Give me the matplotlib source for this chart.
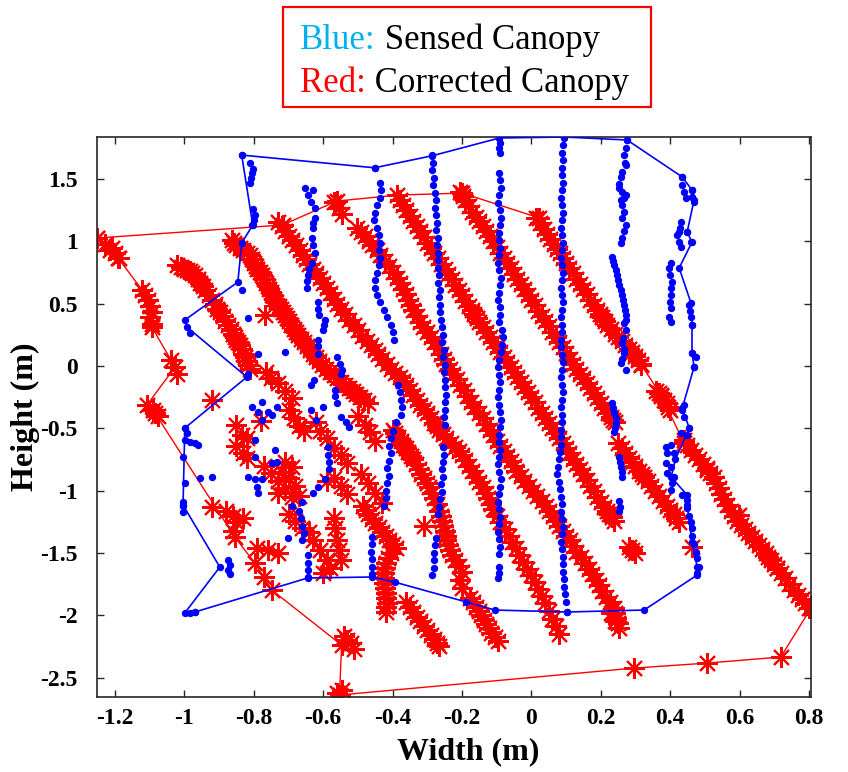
import matplotlib
matplotlib.use("Agg")
import matplotlib.pyplot as plt
from matplotlib.patches import Rectangle
import numpy as np

plt.rcParams["axes.unicode_minus"] = False
SERIF = ["Liberation Serif", "DejaVu Serif"]

# ---------------- sensed canopy (blue) ----------------
sensed_a = [(-0.812,1.63),(-0.803,1.58),(-0.806,1.55),(-0.809,1.51),(-0.812,1.47),
            (-0.803,1.26),(-0.797,1.21),(-0.800,1.17),(-0.806,1.13)]

sensed_b = [(-0.653,1.43),(-0.630,1.41),(-0.645,1.37),(-0.635,1.32),(-0.624,1.27),(-0.624,1.19),
            (-0.628,1.15),(-0.630,1.11),(-0.633,1.03),(-0.628,0.97),(-0.624,0.91),(-0.633,0.83),
            (-0.640,0.78),(-0.645,0.73),(-0.647,0.68),(-0.647,0.63),(-0.616,0.51),(-0.616,0.46),
            (-0.612,0.41),(-0.596,0.37),(-0.598,0.33),(-0.601,0.29),(-0.616,0.21),(-0.616,0.16),
            (-0.614,0.10),(-0.560,0.07),(-0.552,0.02),(-0.545,-0.03),(-0.548,-0.06),(-0.567,-0.19),
            (-0.565,-0.24),(-0.560,-0.30),(-0.550,-0.41),(-0.535,-0.45),(-0.525,-0.49),(-0.587,-0.65),
            (-0.585,-0.71),(-0.582,-0.77),(-0.584,-0.83),(-0.596,-0.91),(-0.615,-0.97),(-0.630,-1.02),
            (-0.662,-1.09),(-0.691,-1.12),(-0.670,-1.16),(-0.665,-1.22),(-0.660,-1.28),(-0.655,-1.34),
            (-0.660,-1.40),(-0.702,-1.38),(-0.645,-1.52),(-0.645,-1.58),(-0.645,-1.64),(-0.645,-1.69),
            (-0.626,-0.11),(-0.635,-0.15),(-0.600,-0.33),(-0.635,-0.35),(-0.621,-0.43)]

sensed_c = [(-0.452,1.59),(-0.435,1.47),(-0.432,1.41),(-0.436,1.35),(-0.445,1.29),(-0.452,1.23),
            (-0.455,1.17),(-0.445,1.11),(-0.440,1.05),(-0.437,0.99),(-0.440,0.93),(-0.436,0.87),
            (-0.440,0.81),(-0.445,0.75),(-0.450,0.69),(-0.452,0.63),(-0.445,0.57),(-0.435,0.51),
            (-0.425,0.45),(-0.415,0.39),(-0.405,0.33),(-0.400,0.27),(-0.395,0.21),(-0.385,-0.15),
            (-0.380,-0.21),(-0.375,-0.27),(-0.372,-0.33),(-0.375,-0.39),(-0.390,-0.45),(-0.400,-0.52),
            (-0.405,-0.58),(-0.410,-0.64),(-0.405,-0.70),(-0.410,-0.76),(-0.415,-0.82),(-0.410,-0.88),
            (-0.415,-0.94),(-0.420,-1.00),(-0.418,-1.06),(-0.425,-1.12),(-0.460,-1.37),(-0.460,-1.43),
            (-0.462,-1.49),(-0.460,-1.55),(-0.460,-1.61),(-0.460,-1.67)]

sensed_d = [(-0.285,1.69),(-0.283,1.63),(-0.285,1.57),(-0.280,1.51),(-0.283,1.45),(-0.278,1.39),
            (-0.275,1.33),(-0.278,1.27),(-0.275,1.21),(-0.272,1.15),(-0.275,1.09),(-0.270,1.03),
            (-0.272,0.97),(-0.270,0.91),(-0.268,0.85),(-0.270,0.79),(-0.266,0.73),(-0.268,0.67),
            (-0.264,0.61),(-0.266,0.55),(-0.262,0.49),(-0.264,0.43),(-0.260,0.37),(-0.258,0.31),
            (-0.255,0.25),(-0.257,0.19),(-0.252,0.13),(-0.255,0.07),(-0.250,0.01),(-0.253,-0.05),
            (-0.248,-0.11),(-0.250,-0.17),(-0.246,-0.23),(-0.250,-0.29),(-0.248,-0.35),(-0.252,-0.41),
            (-0.250,-0.47),(-0.255,-0.65),(-0.252,-0.71),(-0.255,-0.77),(-0.258,-0.83),(-0.255,-0.89),
            (-0.260,-0.95),(-0.258,-1.01),(-0.262,-1.07),(-0.265,-1.13),(-0.270,-1.19),(-0.275,-1.38),
            (-0.278,-1.44),(-0.280,-1.50),(-0.282,-1.56),(-0.280,-1.62),(-0.285,-1.68)]

sensed_e = [(-0.092,1.83),(-0.090,1.79),(-0.093,1.75),(-0.090,1.71),
            (-0.094,1.55),(-0.090,1.49),(-0.088,1.43),(-0.092,1.37),(-0.095,1.31),(-0.091,1.25),
            (-0.088,1.19),(-0.090,1.13),(-0.094,1.07),(-0.092,1.01),(-0.089,0.95),(-0.093,0.89),
            (-0.096,0.83),(-0.092,0.77),(-0.088,0.71),(-0.090,0.65),(-0.093,0.59),(-0.095,0.53),
            (-0.091,0.47),(-0.089,0.41),(-0.092,0.35),(-0.086,0.29),(-0.083,0.23),(-0.085,0.17),
            (-0.088,0.11),(-0.092,0.05),(-0.095,-0.01),(-0.093,-0.07),(-0.090,-0.13),(-0.094,-0.19),
            (-0.097,-0.25),(-0.093,-0.31),(-0.090,-0.37),(-0.088,-0.43),(-0.091,-0.49),(-0.094,-0.55),
            (-0.092,-0.61),(-0.089,-0.67),(-0.093,-0.73),(-0.096,-0.79),(-0.092,-0.85),(-0.088,-0.91),
            (-0.090,-0.97),(-0.094,-1.03),(-0.096,-1.09),(-0.093,-1.15),(-0.090,-1.21),(-0.092,-1.27),
            (-0.095,-1.33),(-0.093,-1.39),(-0.090,-1.45),(-0.092,-1.51),(-0.094,-1.61),(-0.092,-1.66),
            (-0.095,-1.70)]

sensed_f = [(0.095,1.83),(0.090,1.77),(0.088,1.71),(0.091,1.65),(0.087,1.59),(0.089,1.53),(0.092,1.47),
            (0.088,1.41),(0.086,1.35),(0.089,1.29),(0.091,1.23),(0.087,1.17),(0.085,1.11),(0.088,1.05),
            (0.090,0.99),(0.087,0.93),(0.084,0.87),(0.087,0.81),(0.090,0.75),(0.088,0.69),(0.085,0.63),
            (0.087,0.57),(0.090,0.51),(0.088,0.45),(0.085,0.39),(0.087,0.33),(0.089,0.27),(0.086,0.21),
            (0.084,0.15),(0.087,0.09),(0.090,0.03),(0.088,-0.03),(0.085,-0.09),(0.087,-0.15),(0.090,-0.21),
            (0.088,-0.27),(0.085,-0.33),(0.087,-0.39),(0.089,-0.45),(0.086,-0.51),(0.084,-0.57),(0.086,-0.63),
            (0.083,-0.69),(0.080,-0.75),(0.076,-0.81),(0.075,-0.87),(0.079,-0.93),(0.083,-0.99),(0.086,-1.05),
            (0.088,-1.11),(0.086,-1.17),(0.088,-1.23),(0.090,-1.29),(0.088,-1.35),(0.086,-1.41),(0.088,-1.47),
            (0.090,-1.53),(0.092,-1.59),(0.090,-1.65),(0.093,-1.71),(0.095,-1.77),(0.097,-1.83),(0.100,-1.89),
            (0.104,-1.97)]

sensed_g = [(0.276,1.81),(0.272,1.75),(0.268,1.69),(0.271,1.63),(0.273,1.61),(0.262,1.56),(0.259,1.52),
            (0.253,1.46),(0.253,1.43),(0.262,1.40),(0.273,1.37),(0.268,1.35),(0.259,1.33),(0.262,1.29),
            (0.268,1.24),(0.262,1.19),(0.273,1.13),(0.268,1.08),(0.262,1.03),(0.259,0.99),
            (0.233,0.875),(0.236,0.84),(0.239,0.81),(0.243,0.77),(0.247,0.73),(0.250,0.69),(0.253,0.65),
            (0.258,0.61),(0.262,0.57),(0.265,0.53),(0.268,0.49),(0.271,0.45),(0.273,0.41),(0.272,0.37),
            (0.268,0.345),(0.273,0.29),(0.265,0.225),(0.262,0.185),(0.266,0.14),(0.268,0.104),(0.262,0.06),
            (0.259,0.024),(0.273,-0.03),
            (0.233,-0.30),(0.236,-0.34),(0.239,-0.38),(0.243,-0.42),(0.245,-0.46),(0.242,-0.50),(0.239,-0.53),
            (0.253,-0.73),(0.256,-0.77),(0.259,-0.81),(0.260,-0.85),(0.262,-0.89),
            (0.253,-1.08),(0.255,-1.13),(0.253,-1.16)]

sensed_h = [(0.435,1.517),(0.435,1.453),(0.440,1.397),(0.446,1.348),(0.463,1.412),(0.463,1.356),
            (0.469,1.316),(0.432,1.156),(0.428,1.11),(0.426,1.075),(0.420,1.051),(0.426,0.995),
            (0.432,0.955),(0.460,0.995),(0.449,1.075),
            (0.403,0.827),(0.397,0.787),(0.400,0.730),(0.406,0.674),(0.403,0.626),(0.403,0.570),
            (0.400,0.514),(0.403,0.465),(0.397,0.393),(0.403,0.353),(0.455,0.490),(0.460,0.393),
            (0.458,0.44),(0.463,0.33),
            (0.463,0.104),(0.475,0.072),(0.469,-0.008),(0.440,-0.313),(0.435,-0.353),(0.440,-0.409),
            (0.432,-0.538),(0.455,-0.498),(0.449,-0.554),(0.388,-0.650),(0.403,-0.634),(0.391,-0.698),
            (0.412,-0.698),(0.388,-0.779),(0.403,-0.811),(0.391,-0.859),(0.412,-0.891),(0.406,-0.939),
            (0.403,-0.995),(0.435,-1.035),(0.449,-1.075),
            (0.449,-1.14),(0.455,-1.20),(0.460,-1.25),(0.462,-1.30),(0.463,-1.36),(0.470,-1.43),
            (0.475,-1.49),(0.478,-1.54),(0.483,-1.61),(0.478,-1.66)]

sensed_scatter = [(-0.999,-0.498),(-0.993,-0.538),(-0.999,-0.594),(-0.984,-0.610),(-0.970,-0.618),
                  (-0.961,-0.634),(-1.004,-0.730),(-0.999,-0.939),(-1.004,-1.091),(-1.004,-1.12),
                  (-1.004,-1.17),(-0.984,0.265),(-0.817,0.385),(-0.835,0.61),
                  (-0.806,-0.33),(-0.777,-0.29),(-0.760,-0.37),(-0.734,-0.33),(-0.777,-0.43),
                  (-0.748,-0.39),(-0.788,-0.37),(-0.797,-0.59),(-0.740,-0.67),(-0.797,-0.73),
                  (-0.748,-0.78),(-0.734,-0.77),(-0.817,-0.89),(-0.797,-0.91),(-0.791,-0.97),
                  (-0.788,-1.02),(-0.777,-0.91),(-0.921,-0.89),(-0.955,-0.90),(-0.711,0.11),
                  (-0.788,0.10),(-0.817,-0.06),
                  (-0.875,-1.56),(-0.870,-1.60),(-0.875,-1.64),(-0.870,-1.67),
                  (-0.985,-1.98),(-0.970,-1.975)]

sensed_boundary = [(-0.835,1.693),(-0.803,1.132),(-0.835,0.987),(-0.846,0.674),(-0.999,0.369),
                   (-0.993,0.313),(-0.820,-0.088),(-0.999,-0.498),(-1.004,-1.116),(-0.898,-1.613),
                   (-0.999,-1.982),(-0.970,-1.974),(-0.645,-1.701),(-0.460,-1.693),(-0.394,-1.734),
                   (-0.187,-1.894),(-0.106,-1.958),(0.104,-1.974),(0.325,-1.958),(0.478,-1.677),
                   (0.478,-1.613),(0.463,-1.413),(0.449,-1.116),(0.449,-1.035),(0.403,-0.891),
                   (0.415,-0.750),(0.455,-0.498),(0.435,-0.337),(0.469,-0.008),(0.463,0.104),
                   (0.463,0.329),(0.460,0.506),(0.426,0.787),(0.463,0.995),(0.449,1.075),
                   (0.469,1.332),(0.463,1.412),(0.435,1.517),(0.276,1.814),(0.095,1.838),
                   (-0.092,1.830),(-0.285,1.688),(-0.452,1.591),(-0.835,1.693)]

# ---------------- corrected canopy (red) ----------------
corrected_band_1 = [(-1.02,0.81),(-1.00,0.78),(-0.985,0.76),(-0.97,0.73),(-0.955,0.67),(-0.94,0.61),
                    (-0.921,0.53),(-0.905,0.46),(-0.89,0.40),(-0.875,0.33),(-0.86,0.26),(-0.85,0.21),
                    (-0.84,0.17),(-0.83,0.10),(-0.82,0.04),(-0.812,-0.02),
                    (-1.01,0.795),(-0.992,0.77),(-0.977,0.745),(-0.962,0.70),(-0.947,0.64),(-0.93,0.57),
                    (-0.913,0.495),(-0.897,0.43),(-0.882,0.365),(-0.867,0.295),(-0.855,0.235),(-0.845,0.19),
                    (-0.835,0.135),(-0.825,0.07),(-0.816,0.01)]

corrected_band_2 = [(-0.863,1.01),(-0.85,0.97),(-0.83,0.93),(-0.812,0.89),(-0.80,0.83),(-0.79,0.78),
                    (-0.777,0.73),(-0.765,0.67),(-0.755,0.62),(-0.748,0.57),(-0.735,0.51),(-0.722,0.46),
                    (-0.711,0.41),(-0.70,0.36),(-0.685,0.30),(-0.673,0.25),(-0.655,0.19),(-0.639,0.13),
                    (-0.62,0.07),(-0.604,0.01),(-0.58,-0.05),(-0.56,-0.10),(-0.538,-0.15),(-0.515,-0.20),
                    (-0.495,-0.25),(-0.472,-0.30),
                    (-0.856,0.99),(-0.84,0.95),(-0.821,0.91),(-0.806,0.86),(-0.795,0.805),(-0.783,0.755),
                    (-0.771,0.70),(-0.76,0.645),(-0.751,0.595),(-0.741,0.54),(-0.728,0.485),(-0.716,0.435),
                    (-0.705,0.385),(-0.692,0.33),(-0.679,0.275),(-0.664,0.22),(-0.647,0.16),(-0.63,0.10),
                    (-0.612,0.04),(-0.592,-0.02),(-0.57,-0.075),(-0.549,-0.125),(-0.526,-0.175),
                    (-0.505,-0.225),(-0.483,-0.275)]

corrected_band_3 = [(-0.731,1.156),(-0.71,1.08),(-0.69,1.01),(-0.668,0.931),(-0.65,0.86),(-0.63,0.78),
                    (-0.61,0.71),(-0.59,0.63),(-0.57,0.54),(-0.55,0.46),(-0.525,0.37),(-0.50,0.29),
                    (-0.475,0.20),(-0.452,0.13),(-0.43,0.06),(-0.405,-0.02),(-0.38,-0.09),(-0.36,-0.15),
                    (-0.34,-0.23),(-0.32,-0.31),(-0.30,-0.38),(-0.28,-0.46),(-0.265,-0.51),(-0.245,-0.58),
                    (-0.22,-0.65),(-0.20,-0.71),(-0.18,-0.80),(-0.16,-0.89),(-0.14,-0.97),(-0.125,-1.06),
                    (-0.11,-1.15),(-0.09,-1.25),(-0.065,-1.36),(-0.045,-1.46),(-0.025,-1.57),(0.0,-1.68),
                    (0.02,-1.79),(0.04,-1.90),(0.06,-2.03),(0.08,-2.15),
                    (-0.72,1.12),(-0.70,1.045),(-0.679,0.97),(-0.659,0.895),(-0.64,0.82),(-0.62,0.745),
                    (-0.60,0.67),(-0.58,0.585),(-0.56,0.50),(-0.537,0.415),(-0.512,0.33),(-0.487,0.245),
                    (-0.463,0.165),(-0.441,0.095),(-0.417,0.02),(-0.392,-0.055),(-0.37,-0.12),(-0.35,-0.19),
                    (-0.33,-0.27),(-0.31,-0.345),(-0.29,-0.42),(-0.272,-0.485),(-0.255,-0.545),
                    (-0.232,-0.615),(-0.21,-0.68),(-0.19,-0.755),(-0.17,-0.845),(-0.15,-0.93),
                    (-0.132,-1.015),(-0.117,-1.105),(-0.10,-1.20),(-0.077,-1.305),(-0.055,-1.41),
                    (-0.035,-1.515),(-0.012,-1.625),(0.01,-1.735),(0.03,-1.845),(0.05,-1.965),(0.07,-2.09)]

corrected_band_4 = [(-0.504,1.11),(-0.48,1.04),(-0.458,0.97),(-0.435,0.89),(-0.41,0.80),(-0.388,0.71),
                    (-0.37,0.62),(-0.355,0.53),(-0.34,0.45),(-0.322,0.35),(-0.30,0.27),(-0.28,0.19),
                    (-0.26,0.10),(-0.245,0.02),(-0.225,-0.06),(-0.205,-0.15),(-0.185,-0.24),(-0.165,-0.33),
                    (-0.14,-0.42),(-0.12,-0.51),(-0.10,-0.60),(-0.08,-0.68),(-0.06,-0.76),(-0.043,-0.84),
                    (-0.02,-0.92),(0.005,-1.00),(0.03,-1.08),(0.052,-1.16),(0.07,-1.24),(0.09,-1.32),
                    (0.11,-1.40),(0.13,-1.49),(0.155,-1.58),(0.175,-1.67),(0.196,-1.76),(0.215,-1.85),
                    (0.239,-1.94),(0.245,-2.02),(0.253,-2.10),
                    (-0.492,1.075),(-0.469,1.005),(-0.446,0.93),(-0.422,0.845),(-0.399,0.755),
                    (-0.379,0.665),(-0.362,0.575),(-0.347,0.49),(-0.331,0.40),(-0.311,0.31),(-0.29,0.23),
                    (-0.27,0.145),(-0.252,0.06),(-0.235,-0.02),(-0.215,-0.105),(-0.195,-0.195),
                    (-0.175,-0.285),(-0.152,-0.375),(-0.13,-0.465),(-0.11,-0.555),(-0.09,-0.64),
                    (-0.07,-0.72),(-0.051,-0.80),(-0.031,-0.88),(-0.007,-0.96),(0.017,-1.04),(0.041,-1.12),
                    (0.061,-1.20),(0.08,-1.28),(0.10,-1.36),(0.12,-1.445),(0.142,-1.535),(0.165,-1.625),
                    (0.185,-1.715),(0.205,-1.805),(0.227,-1.895),(0.242,-1.98),(0.249,-2.06)]

corrected_band_5 = [(-0.38,1.33),(-0.36,1.25),(-0.34,1.16),(-0.32,1.08),(-0.30,0.99),(-0.28,0.91),
                    (-0.26,0.82),(-0.24,0.74),(-0.22,0.65),(-0.20,0.57),(-0.18,0.48),(-0.165,0.42),
                    (-0.15,0.35),(-0.13,0.27),(-0.11,0.19),(-0.09,0.11),(-0.07,0.03),(-0.05,-0.05),
                    (-0.03,-0.13),(-0.01,-0.21),(0.01,-0.29),(0.03,-0.38),(0.05,-0.46),(0.07,-0.54),
                    (0.09,-0.62),(0.109,-0.70),(0.13,-0.79),(0.15,-0.87),(0.17,-0.96),(0.19,-1.05),
                    (0.21,-1.13),(0.225,-1.19),(0.239,-1.24),
                    (-0.37,1.29),(-0.35,1.205),(-0.33,1.12),(-0.31,1.035),(-0.29,0.95),(-0.27,0.865),
                    (-0.25,0.78),(-0.23,0.695),(-0.21,0.61),(-0.19,0.525),(-0.172,0.45),(-0.157,0.385),
                    (-0.14,0.31),(-0.12,0.23),(-0.10,0.15),(-0.08,0.07),(-0.06,-0.01),(-0.04,-0.09),
                    (-0.02,-0.17),(0.0,-0.25),(0.02,-0.335),(0.04,-0.42),(0.06,-0.50),(0.08,-0.58),
                    (0.10,-0.66),(0.12,-0.745),(0.14,-0.83),(0.16,-0.915),(0.18,-1.005),(0.20,-1.09),
                    (0.217,-1.16),(0.232,-1.215)]

corrected_band_6 = [(-0.207,1.40),(-0.19,1.33),(-0.17,1.24),(-0.15,1.16),(-0.13,1.08),(-0.11,1.00),
                    (-0.09,0.91),(-0.07,0.83),(-0.05,0.74),(-0.03,0.66),(-0.01,0.57),(0.01,0.49),
                    (0.03,0.40),(0.05,0.32),(0.07,0.23),(0.09,0.15),(0.11,0.06),(0.13,-0.02),
                    (0.15,-0.10),(0.17,-0.18),(0.19,-0.26),(0.21,-0.34),(0.23,-0.41),(0.24,-0.45),
                    (0.25,-0.62),(0.27,-0.70),(0.29,-0.77),(0.31,-0.84),(0.325,-0.89),(0.345,-0.96),
                    (0.368,-1.04),(0.39,-1.12),(0.41,-1.19),(0.426,-1.25),
                    (-0.198,1.365),(-0.18,1.285),(-0.16,1.20),(-0.14,1.12),(-0.12,1.04),(-0.10,0.955),
                    (-0.08,0.87),(-0.06,0.785),(-0.04,0.70),(-0.02,0.615),(0.0,0.53),(0.02,0.445),
                    (0.04,0.36),(0.06,0.275),(0.08,0.19),(0.10,0.105),(0.12,0.02),(0.14,-0.06),
                    (0.16,-0.14),(0.18,-0.22),(0.20,-0.30),(0.22,-0.375),(0.235,-0.43),
                    (0.26,-0.66),(0.28,-0.735),(0.30,-0.805),(0.318,-0.865),(0.335,-0.925),(0.356,-1.00),
                    (0.379,-1.08),(0.40,-1.155),(0.418,-1.22)]

corrected_band_7 = [(0.014,1.19),(0.035,1.10),(0.055,1.02),(0.075,0.94),(0.09,0.87),(0.109,0.79),
                    (0.13,0.70),(0.15,0.62),(0.17,0.53),(0.19,0.45),(0.205,0.39),(0.219,0.33),
                    (0.24,0.26),(0.26,0.20),(0.28,0.14),(0.30,0.08),(0.317,0.02),
                    (0.36,-0.20),(0.375,-0.24),(0.39,-0.30),(0.40,-0.35),
                    (0.44,-0.59),(0.46,-0.67),(0.483,-0.75),(0.505,-0.82),(0.527,-0.89),(0.54,-0.98),
                    (0.555,-1.07),(0.575,-1.16),(0.593,-1.24),(0.615,-1.31),(0.635,-1.37),(0.656,-1.44),
                    (0.675,-1.50),(0.69,-1.56),(0.708,-1.62),(0.73,-1.70),(0.757,-1.80),(0.78,-1.87),
                    (0.80,-1.94),
                    (0.024,1.145),(0.045,1.06),(0.065,0.98),(0.082,0.905),(0.10,0.83),(0.12,0.745),
                    (0.14,0.66),(0.16,0.575),(0.18,0.49),(0.198,0.42),(0.212,0.36),(0.23,0.295),
                    (0.25,0.23),(0.27,0.17),(0.29,0.11),(0.308,0.05),
                    (0.368,-0.22),(0.383,-0.27),(0.395,-0.325),
                    (0.45,-0.63),(0.472,-0.71),(0.494,-0.785),(0.516,-0.855),(0.533,-0.935),(0.548,-1.025),
                    (0.565,-1.115),(0.584,-1.20),(0.604,-1.275),(0.625,-1.34),(0.645,-1.405),(0.665,-1.47),
                    (0.682,-1.53),(0.70,-1.59),(0.72,-1.66),(0.743,-1.75),(0.768,-1.835),(0.79,-1.905)]

corrected_band_8 = [(-0.40,-0.51),(-0.385,-0.57),(-0.37,-0.63),(-0.355,-0.69),(-0.342,-0.75),
                    (-0.325,-0.83),(-0.31,-0.90),(-0.294,-0.97),(-0.28,-1.06),(-0.265,-1.16),
                    (-0.258,-1.24),(-0.25,-1.32),(-0.245,-1.40),(-0.235,-1.48),(-0.22,-1.56),
                    (-0.20,-1.65),(-0.205,-1.72),(-0.20,-1.78),
                    (-0.392,-0.54),(-0.377,-0.60),(-0.362,-0.66),(-0.348,-0.72),(-0.333,-0.79),
                    (-0.317,-0.865),(-0.302,-0.935),(-0.287,-1.015),(-0.272,-1.11),(-0.261,-1.20),
                    (-0.254,-1.28),(-0.247,-1.36),(-0.24,-1.44),(-0.228,-1.52),(-0.21,-1.605)]

corrected_band_9 = [(-0.486,-1.12),(-0.47,-1.19),(-0.45,-1.26),(-0.43,-1.33),(-0.41,-1.40),(-0.39,-1.46),
                    (-0.405,-1.50),(-0.42,-1.58),(-0.425,-1.66),(-0.425,-1.74),(-0.42,-1.82),
                    (-0.415,-1.90),(-0.42,-1.97),
                    (-0.478,-1.155),(-0.46,-1.225),(-0.44,-1.295),(-0.42,-1.365),(-0.40,-1.43),
                    (-0.412,-1.54),(-0.423,-1.62),(-0.425,-1.70),(-0.423,-1.78),(-0.418,-1.86),
                    (-0.418,-1.935)]

corrected_band_10 = [(-0.36,-1.89),(-0.34,-1.97),(-0.32,-2.05),(-0.30,-2.12),(-0.28,-2.19),(-0.265,-2.25),
                     (-0.178,-1.86),(-0.16,-1.93),(-0.145,-2.00),(-0.13,-2.07),(-0.115,-2.14),(-0.095,-2.21),
                     (-0.35,-1.93),(-0.33,-2.01),(-0.31,-2.085),(-0.29,-2.155),(-0.272,-2.22),
                     (-0.169,-1.895),(-0.152,-1.965),(-0.137,-2.035),(-0.122,-2.105),(-0.105,-2.175)]

corrected_clusters = [(-1.23,0.98),(-1.21,0.95),(-1.20,0.91),(-1.19,0.87),(-1.215,0.93),
                      (-1.114,0.57),(-1.105,0.53),(-1.099,0.48),(-1.094,0.43),(-1.10,0.39),(-1.094,0.34),
                      (-1.04,0.05),(-1.02,-0.06),(-1.09,-0.35),(-1.075,-0.40),(-0.92,-0.27),
                      (-0.92,-1.13),(-0.88,-1.16),(-0.86,-1.20),(-0.83,-1.22),(-0.85,-1.25),(-0.86,-1.32),
                      (-0.79,-1.46),(-0.76,-1.48),(-0.73,-1.50),(-0.77,-1.69),
                      (-0.70,-1.19),(-0.68,-1.24),(-0.66,-1.30),(-0.64,-1.33),
                      (-0.63,-1.40),(-0.61,-1.48),(-0.59,-1.56),(-0.58,-1.62),(-0.60,-1.66),
                      (-0.768,0.41),(-0.57,1.32),(-0.555,1.27),(-0.545,1.22),
                      (-0.765,-0.05),(-0.75,-0.10),(-0.73,-0.14),(-0.71,-0.20),(-0.69,-0.26),
                      (-0.70,-0.35),(-0.685,-0.42),(-0.67,-0.48),(-0.655,-0.52),
                      (-0.85,-0.47),(-0.835,-0.55),(-0.82,-0.58),(-0.85,-0.64),(-0.83,-0.70),(-0.82,-0.74),
                      (-0.78,-0.44),
                      (-0.77,-0.80),(-0.75,-0.86),(-0.73,-0.92),(-0.71,-0.98),(-0.69,-1.05),(-0.72,-0.85),
                      (-0.70,-0.90),(-0.68,-0.96),(-0.73,-1.02),(-0.67,-1.04),(-0.71,-0.77),(-0.69,-0.81),
                      (-0.62,-0.45),(-0.61,-0.52),(-0.59,-0.58),(-0.57,-0.66),(-0.55,-0.71),(-0.53,-0.78),
                      (-0.59,-0.92),(-0.50,-0.40),(-0.48,-0.47),(-0.465,-0.53),(-0.45,-0.60),
                      (-0.57,-0.90),(-0.55,-0.96),(-0.53,-1.03),
                      (-0.49,-0.87),(-0.47,-0.94),(-0.45,-1.02),(-0.43,-1.10),
                      (-0.31,-1.28),
                      (-0.57,-1.22),(-0.565,-1.30),(-0.56,-1.40),(-0.555,-1.48),(-0.55,-1.56),
                      (-0.54,-2.17),(-0.52,-2.22),(-0.51,-2.27),(-0.53,-2.20),
                      (-0.56,-2.62),(-0.545,-2.60),
                      (0.23,-1.98),(0.24,-2.05),(0.28,-1.45),(0.30,-1.50),(0.29,-1.48),(0.463,-1.453)]

corrected_boundary = [(-1.252,1.027),(-0.717,1.132),(-0.561,1.324),(-0.386,1.372),(-0.199,1.388),
                      (0.023,1.188),(0.317,0.008),(0.374,-0.233),(0.440,-0.618),(0.506,-0.835),
                      (0.599,-1.196),(0.708,-1.621),(0.806,-1.942),(0.719,-2.335),(0.506,-2.384),
                      (0.296,-2.424),(-0.553,-2.640),(-0.547,-2.239),(-0.748,-1.798),(-0.797,-1.581),
                      (-0.855,-1.372),(-1.085,-0.377),(-1.108,-0.313),(-1.027,-0.008),(-1.094,0.313),
                      (-1.122,0.610),(-1.191,0.867),(-1.252,1.027)]

x_ticks = [-1.2, -1, -0.8, -0.6, -0.4, -0.2, 0, 0.2, 0.4, 0.6, 0.8]
x_tick_labels = ["-1.2", "-1", "-0.8", "-0.6", "-0.4", "-0.2", "0", "0.2", "0.4", "0.6", "0.8"]
y_ticks = [-2.5, -2, -1.5, -1, -0.5, 0, 0.5, 1, 1.5]
y_tick_labels = ["-2.5", "-2", "-1.5", "-1", "-0.5", "0", "0.5", "1", "1.5"]

BLUE = (0.0, 0.0, 1.0)
RED = (1.0, 0.0, 0.0)
ASTERISK = (8, 2, 0)

sensed = np.array(sensed_a + sensed_b + sensed_c + sensed_d + sensed_e + sensed_f +
                  sensed_g + sensed_h + sensed_scatter)
corrected = np.array(corrected_band_1 + corrected_band_2 + corrected_band_3 + corrected_band_4 +
                     corrected_band_5 + corrected_band_6 + corrected_band_7 + corrected_band_8 +
                     corrected_band_9 + corrected_band_10 + corrected_clusters)
sb = np.array(sensed_boundary)
cb = np.array(corrected_boundary)

fig = plt.figure(figsize=(8.48, 7.72), dpi=100)
ax = fig.add_axes([97 / 848, 75 / 772, 714 / 848, 560 / 772])

star_kw = dict(marker=ASTERISK, markersize=15, markeredgewidth=1.5, color=RED)
dot_kw = dict(marker="o", markersize=5.3, markeredgewidth=0, color=BLUE)

ax.plot(corrected[:, 0], corrected[:, 1], linestyle="none", zorder=2, **star_kw)
ax.plot(cb[:, 0], cb[:, 1], "-", lw=1.0, zorder=2, **star_kw)
ax.plot(sensed[:, 0], sensed[:, 1], linestyle="none", zorder=3, **dot_kw)
ax.plot(sb[:, 0], sb[:, 1], "-", lw=1.2, zorder=3, **dot_kw)

ax.set_xlim(-1.252, 0.806)
ax.set_ylim(-2.656, 1.838)
ax.set_xticks(x_ticks)
ax.set_xticklabels(x_tick_labels)
ax.set_yticks(y_ticks)
ax.set_yticklabels(y_tick_labels)
ax.tick_params(direction="in", length=5, width=1.0, top=True, right=True, color="#262626")
ax.tick_params(axis="x", pad=8)
ax.tick_params(axis="y", pad=14)
for lab in ax.get_xticklabels() + ax.get_yticklabels():
    lab.set_fontfamily(SERIF)
    lab.set_fontweight("bold")
    lab.set_fontsize(17)
for sp in ax.spines.values():
    sp.set_color("#262626")
    sp.set_linewidth(1.2)

ax.set_xlabel("Width (m)", fontsize=23, fontweight="bold", family=SERIF)
ax.set_ylabel("Height (m)", fontsize=23, fontweight="bold", family=SERIF)
ax.xaxis.set_label_coords(0.52, -0.072)
ax.yaxis.set_label_coords(-0.080, 0.5)

# caption box above the plot
fig.add_artist(Rectangle((283 / 848, 1 - 107 / 772), 368 / 848, 100 / 772,
                         transform=fig.transFigure, fill=False, edgecolor=RED, lw=1.6))
t1 = fig.text(300 / 848, 1 - 57 / 772, "Blue:", color="#00B0F0", fontsize=25, family=SERIF,
              ha="left", va="bottom")
ax.annotate(" Sensed Canopy", xy=(1, 0), xycoords=t1, xytext=(0, 0), textcoords="offset points",
            ha="left", va="bottom", fontsize=25, family=SERIF, color="black",
            annotation_clip=False)
t2 = fig.text(300 / 848, 1 - 100 / 772, "Red:", color=RED, fontsize=25, family=SERIF,
              ha="left", va="bottom")
ax.annotate(" Corrected Canopy", xy=(1, 0), xycoords=t2, xytext=(0, 0), textcoords="offset points",
            ha="left", va="bottom", fontsize=25, family=SERIF, color="black",
            annotation_clip=False)

fig.savefig("out.png", dpi=100)
